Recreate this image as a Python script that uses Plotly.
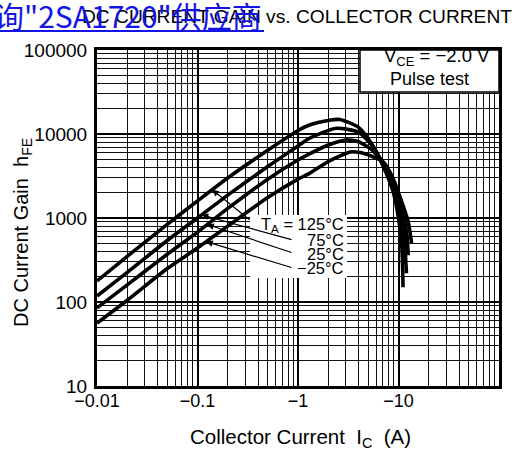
import numpy as np
import plotly.graph_objects as go

# ---- data ----
temps = ["125°C", "75°C", "25°C", "−25°C"]

ic_125 = [-0.01, -0.02, -0.05, -0.1, -0.2, -0.5, -1.0, -1.3, -2.0, -2.6, -4.0, -5.5, -7.0, -8.8, -10.0, -10.8, -11.1]
hfe_125 = [178, 350, 840, 1600, 3000, 6400, 11000, 12800, 14500, 14900, 12000, 7400, 4200, 2100, 1000, 450, 150]

ic_75 = [-0.01, -0.02, -0.05, -0.1, -0.2, -0.5, -1.0, -1.3, -2.4, -4.0, -5.5, -7.0, -8.8, -10.5, -11.5, -12.0]
hfe_75 = [118, 225, 540, 1000, 1870, 4100, 7200, 8900, 11700, 10500, 7200, 4400, 2400, 1100, 500, 220]

ic_25 = [-0.01, -0.02, -0.05, -0.1, -0.2, -0.5, -1.0, -1.3, -2.0, -3.0, -4.0, -5.5, -7.0, -8.8, -10.5, -12.0, -12.5]
hfe_25 = [85, 160, 370, 680, 1300, 2900, 4900, 5800, 7400, 8500, 8100, 6400, 4600, 2700, 1400, 700, 360]

ic_m25 = [-0.01, -0.02, -0.05, -0.1, -0.2, -0.5, -1.0, -1.3, -2.0, -3.3, -4.0, -5.5, -7.0, -8.8, -10.5, -12.5, -13.5]
hfe_m25 = [56, 105, 250, 440, 800, 1750, 2900, 3400, 4700, 6100, 6050, 5400, 4700, 3000, 1700, 900, 500]

x_tickvals = [0.01, 0.1, 1, 10, 100]
x_ticktext = ["−0.01", "−0.1", "−1", "−10", "−100"]
y_tickvals = [10, 100, 1000, 10000, 100000]
y_ticktext = ["10", "100", "1000", "10000", "100000"]

# collector current where each label's leader arrow touches its curve
arrow_ic = [-0.14, -0.11, -0.125, -0.122]

series = [(ic_125, hfe_125), (ic_75, hfe_75), (ic_25, hfe_25), (ic_m25, hfe_m25)]

FONT = "Liberation Sans, Arial, sans-serif"
W, H = 515, 458
L, R, T, B = 97, 16, 50, 72
PW, PH = W - L - R, H - T - B


def px(x):
    return (x - L) / PW


def py(y):
    return (H - B - y) / PH


fig = go.Figure()
for (ic, hfe), name in zip(series, temps):
    fig.add_trace(go.Scatter(
        x=[abs(v) for v in ic], y=hfe, mode="lines", name=name,
        line=dict(color="black", width=3.6, shape="spline", smoothing=0.6),
        showlegend=False, hoverinfo="skip"))

axis_common = dict(
    type="log", showgrid=True, gridcolor="black", gridwidth=1.8,
    showline=True, linecolor="black", linewidth=3, mirror=True,
    ticks="", zeroline=False,
    minor=dict(showgrid=True, gridcolor="#111", gridwidth=1, dtick="D1"),
)
fig.update_xaxes(**axis_common, range=[-2, 2], tickvals=x_tickvals, ticktext=x_ticktext,
                 tickangle=0, ticklabelstandoff=-4,
                 tickfont=dict(family=FONT, size=18, color="black"))
fig.update_yaxes(**axis_common, range=[1, 5], tickvals=y_tickvals, ticktext=y_ticktext,
                 ticklabelstandoff=3, tickfont=dict(family=FONT, size=19, color="black"))

annotations = []
shapes = []


def txt(x, y, text, size, xanchor="center", color="black", family=FONT, **kw):
    d = dict(xref="paper", yref="paper", x=px(x), y=py(y), text=text, showarrow=False,
             xanchor=xanchor, yanchor="middle",
             font=dict(family=family, size=size, color=color))
    d.update(kw)
    return d


# condition box
shapes.append(dict(type="rect", xref="paper", yref="paper",
                   x0=px(360), x1=1, y0=py(92), y1=1,
                   fillcolor="white", line=dict(color="black", width=1.5), layer="above"))
annotations.append(txt(437, 57, "V<sub>CE</sub> = −2.0 V", 18.5))
annotations.append(txt(429, 79, "Pulse test", 18))

# white area behind temperature labels
shapes.append(dict(type="rect", xref="paper", yref="paper",
                   x0=px(250), x1=px(347), y0=py(278), y1=py(215),
                   fillcolor="white", line=dict(width=0), layer="above"))

lab_text = ["T<sub>A</sub> = 125°C", "75°C", "25°C", "−25°C"]
lab_y = [225, 240, 254, 268]
for t, yy in zip(lab_text, lab_y):
    annotations.append(txt(346, yy, t, 16.5, xanchor="right"))

# leader arrows pointing to the curves
tails = [(251, 221), (293, 240), (293, 253), (293, 268)]
for (ic, hfe), aic, (tx, ty) in zip(series, arrow_ic, tails):
    lx = np.log10([abs(v) for v in ic])
    ly = np.log10(hfe)
    ax_ = np.log10(abs(aic))
    ay_ = float(np.interp(ax_, lx, ly))
    hx = L + (ax_ + 2) / 4 * PW
    hy = T + (5 - ay_) / 4 * PH
    annotations.append(dict(x=ax_, y=ay_, xref="x", yref="y", text="",
                            showarrow=True, arrowhead=2, arrowsize=1.1, arrowwidth=1.2,
                            arrowcolor="black", ax=tx - hx, ay=ty - hy, standoff=0))

# axis titles
annotations.append(txt(22, 233, "DC Current Gain&nbsp; h<sub>FE</sub>", 20, textangle=-90))
annotations.append(txt(300, 438, "Collector Current&nbsp; I<sub>C</sub> &nbsp;(A)", 20.5))

# header
annotations.append(txt(80, 17, "DC CURRENT GAIN vs. COLLECTOR CURRENT", 19.2, xanchor="left"))
annotations.append(txt(264, 15, '询"2SA1720"供应商', 30, xanchor="right",
                       color="#1414e6", family="Noto Sans CJK SC"))
shapes.append(dict(type="line", xref="paper", yref="paper", x0=px(0), x1=px(264),
                   y0=py(31), y1=py(31), line=dict(color="#1414e6", width=2)))

fig.update_layout(width=W, height=H, margin=dict(l=L, r=R, t=T, b=B),
                  paper_bgcolor="white", plot_bgcolor="white",
                  annotations=annotations, shapes=shapes)

fig.write_html("out.html", config={"displayModeBar": False},
               post_script="document.body.style.margin='0';document.body.style.padding='0';")
